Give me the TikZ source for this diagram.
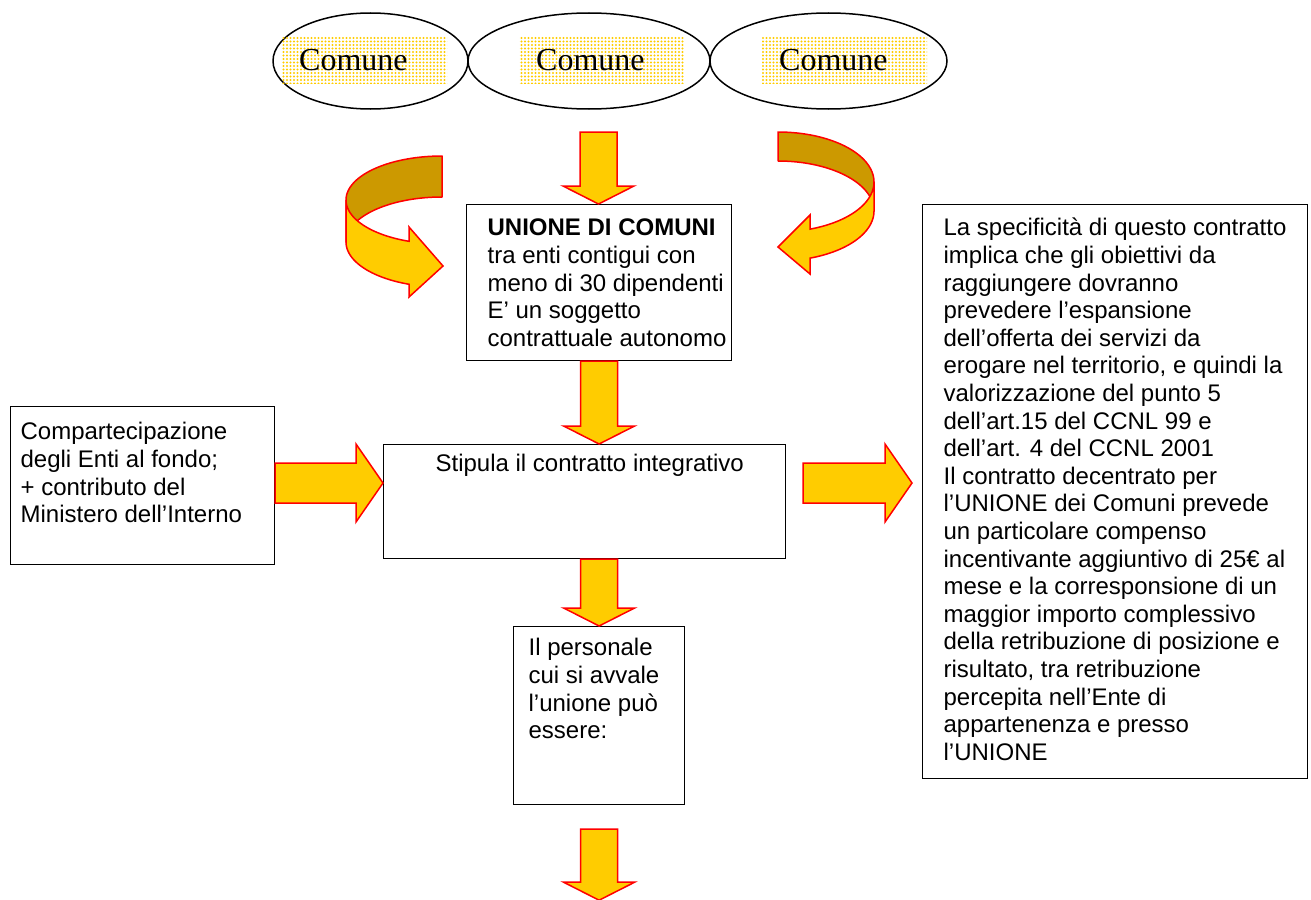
\documentclass[tikz,border=0pt]{standalone}
\usepackage{fontspec}
\setmainfont{Liberation Sans}
\newfontfamily\comunefont{Liberation Serif}
\usetikzlibrary{calc,shapes.geometric,patterns.meta}

\definecolor{arrowYellow}{HTML}{FFCC00}
\definecolor{arrowGold}{HTML}{CC9900}
\definecolor{arrowRed}{HTML}{FF0000}

\tikzset{blockArrow/.style={fill=arrowYellow,draw=arrowRed,line width=1.5pt,line join=miter}}

% box text: width, height, top inset, left inset, lines
\newcommand{\boxtxt}[5]{\parbox[t][#2][t]{#1}{\vspace*{#3}\raggedright\leftskip=#4\relax\strut#5}}

% fat arrow pointing down, from top centre to tip
\newcommand{\fatDown}[2]{%
  \filldraw[blockArrow] let \p1=#1, \p2=#2 in
  (\x1-18.5pt,\y1) -- (\x1+18.5pt,\y1) -- (\x1+18.5pt,\y2+18pt) -- (\x1+35.5pt,\y2+18pt)
  -- (\x1,\y2) -- (\x1-35.5pt,\y2+18pt) -- (\x1-18.5pt,\y2+18pt) -- cycle;}

% fat arrow pointing right, from tail centre to tip
\newcommand{\fatRight}[2]{%
  \filldraw[blockArrow] let \p1=#1, \p2=#2 in
  (\x1,\y1+20pt) -- (\x2-27pt,\y1+20pt) -- (\x2-27pt,\y1+39pt) -- (\x2,\y1)
  -- (\x2-27pt,\y1-39pt) -- (\x2-27pt,\y1-20pt) -- (\x1,\y1-20pt) -- cycle;}

\begin{document}
\begin{tikzpicture}
[x=1pt,y=-1pt,
  comuneShape/.style={ellipse,draw,line width=1.5pt,minimum height=96pt,inner sep=0pt},%
  comuneText/.style={anchor=west,pattern={Dots[distance=3.5pt,radius=1.1pt]},pattern color=arrowYellow,
    text width=131pt,align=left,inner xsep=17pt,inner ysep=0pt,minimum height=46pt,
    font=\comunefont\fontsize{32}{38}\selectfont},
  textBox/.style={draw,line width=1.2pt,anchor=north west,inner sep=0pt,
    font=\fontsize{24}{27.6}\selectfont},
  ribbonBack/.style={fill=arrowGold,draw=arrowRed,line width=1.5pt,line join=round},
  ribbonFront/.style={fill=arrowYellow,draw=arrowRed,line width=1.5pt,line join=miter}]
\useasboundingbox (0,0) rectangle (1311,899);

%% the three Comuni
\foreach \nodename/\x/\w in {c1/370.5/195, c2/589/242, c3/828.5/237}
{
  \node (\nodename) at (\x,61) [comuneShape,minimum width=\w pt] {};
}
\foreach \nodename/\x in {t1/282, t2/519, t3/762}
{
  \node (\nodename) at (\x,60) [comuneText] {Comune};
}

%% boxes
\node[textBox] (unione) at (466,204) {\boxtxt{265pt}{156pt}{12pt}{21pt}{%
  \textbf{UNIONE DI COMUNI}\\tra enti contigui con\\meno di 30 dipendenti\\E’ un soggetto\\contrattuale autonomo}};
\node[textBox] (stipula) at (383,444) {\boxtxt{402pt}{114pt}{8pt}{52pt}{Stipula il contratto integrativo}};
\node[textBox] (personale) at (513,626) {\boxtxt{171pt}{178pt}{10pt}{15pt}{%
  Il personale\\cui si avvale\\l’unione può\\essere:}};
\node[textBox] (comp) at (10,406) {\boxtxt{264pt}{158pt}{14pt}{10pt}{%
  Compartecipazione\\degli Enti al fondo;\\+ contributo del\\Ministero dell’Interno}};
\node[textBox] (spec) at (922,204) {\boxtxt{385pt}{574pt}{12pt}{21pt}{%
  La specificità di questo contratto\\implica che gli obiettivi da\\raggiungere dovranno\\
  prevedere l’espansione\\dell’offerta dei servizi da\\erogare nel territorio, e quindi la\\
  valorizzazione del punto 5\\dell’art.15 del CCNL 99 e\\dell’art. 4 del CCNL 2001\\
  Il contratto decentrato per\\l’UNIONE dei Comuni prevede\\un particolare compenso\\
  incentivante aggiuntivo di 25€ al\\mese e la corresponsione di un\\maggior importo complessivo\\
  della retribuzione di posizione e\\risultato, tra retribuzione\\percepita nell’Ente di\\
  appartenenza e presso\\l’UNIONE}};

%% straight arrows
\coordinate (a1top) at (598.5,132);
\fatDown{(a1top)}{(unione.north)}
\fatDown{(unione.south)}{(unione.south |- stipula.north)}
\fatDown{(unione.south |- stipula.south)}{(personale.north)}
\coordinate (a4top) at ($(personale.south)+(0,24)$);
\coordinate (a4tip) at ($(a4top)+(0,71)$);
\fatDown{(a4top)}{(a4tip)}
\coordinate (la) at ($(stipula.north west)+(0,39)$);
\fatRight{(comp.east |- la)}{(la)}
\coordinate (ra) at ($(stipula.north east)+(17,39)$);
\coordinate (rt0) at (spec.west |- ra);
\coordinate (rt) at ($(rt0)+(-10,0)$);
\fatRight{(ra)}{(rt)}

%% turning arrows
\filldraw[ribbonBack] plot[domain=270:180,samples=40,variable=\t] ({442+96*cos(\t)},{200+44*sin(\t)})
  -- plot[domain=180:270,samples=40,variable=\t] ({442+96*cos(\t)},{242+45*sin(\t)}) -- cycle;
\filldraw[ribbonFront] plot[domain=180:110,samples=40,variable=\t] ({442+96*cos(\t)},{200+44*sin(\t)})
  -- (409,227) -- (443,266) -- (409,297)
  -- plot[domain=110:180,samples=40,variable=\t] ({442+96*cos(\t)},{242+45*sin(\t)}) -- cycle;
\filldraw[ribbonBack] plot[domain=270:360,samples=40,variable=\t] ({778+96*cos(\t)},{182+50*sin(\t)})
  -- plot[domain=360:270,samples=40,variable=\t] ({778+96*cos(\t)},{211+50*sin(\t)}) -- cycle;
\filldraw[ribbonFront] plot[domain=0:70.5,samples=40,variable=\t] ({778+96*cos(\t)},{182+50*sin(\t)})
  -- (810,215) -- (778,247) -- (810,274)
  -- plot[domain=70.5:0,samples=40,variable=\t] ({778+96*cos(\t)},{211+50*sin(\t)}) -- cycle;
\end{tikzpicture}
\end{document}
